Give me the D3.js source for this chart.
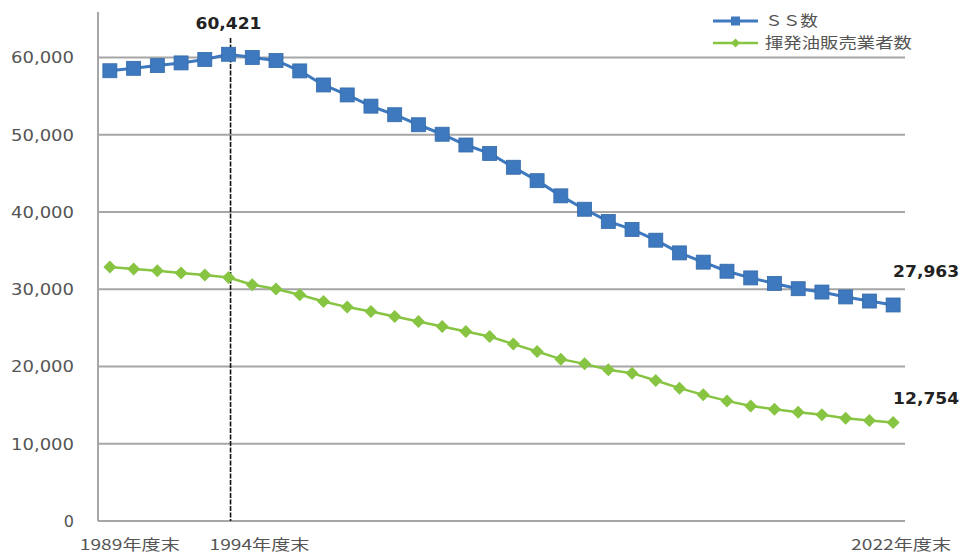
<!DOCTYPE html>
<html><head><meta charset="utf-8">
<script src="https://cdn.jsdelivr.net/npm/d3@7"></script>
<style>
body{margin:0;background:#fff;}
svg{display:block;}
</style></head>
<body>
<svg id="chart" width="963" height="553"></svg>
<script>
const years = d3.range(1989, 2023);
const ssCount = [58285,58600,58950,59300,59750,60421,60000,59615,58263,56444,55153,53704,52592,51294,50067,48672,47584,45792,44057,42090,40357,38777,37743,36349,34706,33510,32333,31467,30747,30070,29637,29005,28475,27963];
const retailers = [32870,32610,32400,32100,31840,31530,30580,30020,29290,28420,27690,27130,26480,25830,25180,24530,23880,22900,21940,20950,20340,19570,19140,18180,17200,16330,15550,14900,14470,14090,13740,13310,13000,12754];
const seriesNames = ["ＳＳ数","揮発油販売業者数"];
const yTicks = [0,10000,20000,30000,40000,50000,60000];
const xTickYears = [1989,1994,2022];
const xTickLabels = ["1989年度末","1994年度末","2022年度末"];
const annotations = [{year:1994, series:0}, {year:2022, series:0}, {year:2022, series:1}];

const svg = d3.select("#chart");
const blue = "#3e79bf", green = "#86c441";
const x = d3.scalePoint().domain(years).range([98,905]).padding(0.5);
const y = d3.scaleLinear().domain([0,60000]).range([521,57.5]);
const fmt = d3.format(",");

// gridlines
svg.append("g").selectAll("line").data(yTicks).join("line")
  .attr("x1",98).attr("x2",905)
  .attr("y1",d=>y(d)).attr("y2",d=>y(d))
  .attr("stroke","#a6a6a6").attr("stroke-width",2);
// left axis line
svg.append("line").attr("x1",98).attr("x2",98).attr("y1",12).attr("y2",y(0))
  .attr("stroke","#a6a6a6").attr("stroke-width",2);

// y labels
svg.append("g").selectAll("text").data(yTicks).join("text")
  .attr("x",74).attr("y",d=>y(d)).attr("dy","0.36em")
  .attr("text-anchor","end").attr("font-family","DejaVu Sans, Verdana, sans-serif")
  .attr("font-size",16).attr("fill","#555")
  .attr("textLength", d=> d===0 ? null : 63).attr("lengthAdjust","spacingAndGlyphs")
  .text(d=>fmt(d));

// x labels
const xOff = {1989:20, 1994:31, 2022:8};
svg.append("g").selectAll("text").data(xTickYears).join("text")
  .attr("x",(d)=>x(d)+xOff[d]).attr("y",545).attr("dy","0.35em")
  .attr("text-anchor","middle").attr("font-family","Noto Sans CJK JP, sans-serif")
  .attr("font-size",15).attr("fill","#555")
  .attr("textLength",100).attr("lengthAdjust","spacingAndGlyphs")
  .text((d,i)=>xTickLabels[i]);

// vertical dashed marker at 1994
svg.append("line").attr("x1",x(1994)+2).attr("x2",x(1994)+2)
  .attr("y1",38).attr("y2",y(0))
  .attr("stroke","#111").attr("stroke-width",1.6).attr("stroke-dasharray","5,1.5");

// lines
const line = d3.line().x((d,i)=>x(years[i])).y(d=>y(d));
svg.append("path").datum(retailers).attr("d",line).attr("fill","none")
  .attr("stroke",green).attr("stroke-width",2.5);
svg.append("path").datum(ssCount).attr("d",line).attr("fill","none")
  .attr("stroke",blue).attr("stroke-width",3);

// markers
svg.append("g").selectAll("path").data(retailers).join("path")
  .attr("d",(d,i)=>{const cx=x(years[i]), cy=y(d), r=6.5; return `M${cx},${cy-r}L${cx+r},${cy}L${cx},${cy+r}L${cx-r},${cy}Z`;})
  .attr("fill",green);
svg.append("g").selectAll("rect").data(ssCount).join("rect")
  .attr("x",(d,i)=>x(years[i])-7).attr("y",d=>y(d)-7)
  .attr("width",14).attr("height",14).attr("fill",blue)
  .attr("stroke","#336aa8").attr("stroke-width",0.8);

// annotations
const series = [ssCount, retailers];
const annPos = [{dx:0, dy:-30, anchor:"middle"}, {dx:33, dy:-33, anchor:"middle"}, {dx:33, dy:-24, anchor:"middle"}];
svg.append("g").selectAll("text").data(annotations).join("text")
  .attr("x",(d,i)=>x(d.year)+annPos[i].dx)
  .attr("y",(d,i)=>y(series[d.series][years.indexOf(d.year)])+annPos[i].dy)
  .attr("dy","0.35em").attr("text-anchor",(d,i)=>annPos[i].anchor)
  .attr("font-family","DejaVu Sans, Verdana, sans-serif").attr("font-weight","bold")
  .attr("font-size",15).attr("fill","#222")
  .attr("textLength",66).attr("lengthAdjust","spacingAndGlyphs")
  .text(d=>fmt(series[d.series][years.indexOf(d.year)]));

// legend
const lg = svg.append("g");
const legendItems = [{name:seriesNames[0], color:blue, y:21, shape:"sq", len:53},
                     {name:seriesNames[1], color:green, y:43, shape:"dia", len:147}];
legendItems.forEach(it=>{
  lg.append("line").attr("x1",713).attr("x2",758).attr("y1",it.y).attr("y2",it.y)
    .attr("stroke",it.color).attr("stroke-width",it.shape==="sq"?3:2.5);
  if(it.shape==="sq"){
    lg.append("rect").attr("x",731).attr("y",it.y-4.5).attr("width",9).attr("height",9).attr("fill",it.color);
  } else {
    lg.append("path").attr("d",`M735.5,${it.y-4.5}L740,${it.y}L735.5,${it.y+4.5}L731,${it.y}Z`).attr("fill",it.color);
  }
  lg.append("text").attr("x",765).attr("y",it.y).attr("dy","0.36em")
    .attr("font-family","Noto Sans CJK JP, sans-serif").attr("font-size",15).attr("fill","#555")
    .attr("textLength",it.len).attr("lengthAdjust","spacingAndGlyphs")
    .text(it.name);
});
</script>
</body></html>
